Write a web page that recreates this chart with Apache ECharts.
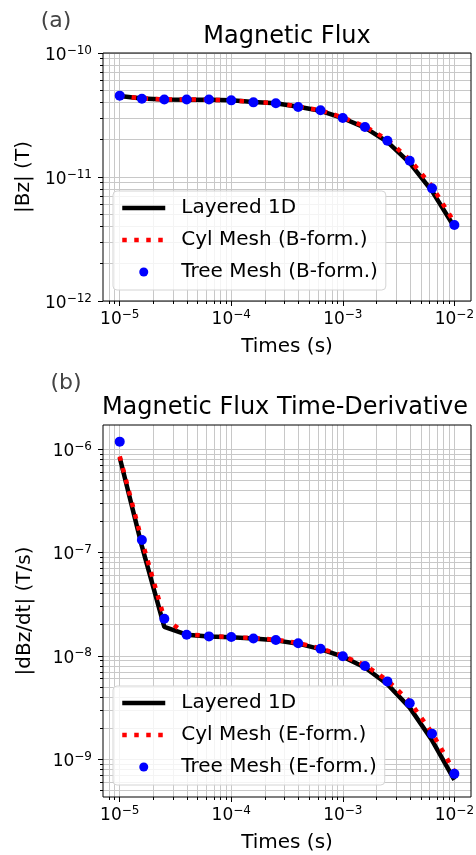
<!DOCTYPE html>
<html>
<head>
<meta charset="utf-8">
<title>Magnetic Flux</title>
<script src="https://cdn.jsdelivr.net/npm/echarts@6/dist/echarts.min.js"></script>
<style>
html, body { margin: 0; padding: 0; background: #fff; }
#main { width: 476px; height: 855px; }
</style>
</head>
<body>
<div id="main"></div>
<script>
// sample times (s), 5 per decade
var times = [1.0e-5, 1.58e-5, 2.51e-5, 3.98e-5, 6.31e-5, 1.0e-4, 1.58e-4, 2.51e-4,
             3.98e-4, 6.31e-4, 1.0e-3, 1.58e-3, 2.51e-3, 3.98e-3, 6.31e-3, 1.0e-2];

// (a) |Bz| (T)
var bzLayered = [4.5e-11, 4.3e-11, 4.22e-11, 4.2e-11, 4.2e-11, 4.15e-11, 4.02e-11, 3.93e-11,
                 3.68e-11, 3.42e-11, 2.98e-11, 2.5e-11, 1.92e-11, 1.3e-11, 7.7e-12, 3.95e-12];
var bzCyl = [4.5e-11, 4.3e-11, 4.23e-11, 4.22e-11, 4.2e-11, 4.15e-11, 4.02e-11, 3.95e-11,
             3.7e-11, 3.45e-11, 3.02e-11, 2.56e-11, 2.0e-11, 1.38e-11, 8.4e-12, 4.3e-12];
var bzTree = [4.53e-11, 4.28e-11, 4.22e-11, 4.22e-11, 4.22e-11, 4.15e-11, 4.0e-11, 3.93e-11,
              3.67e-11, 3.45e-11, 2.99e-11, 2.53e-11, 1.96e-11, 1.35e-11, 8.1e-12, 4.1e-12];

// (b) |dBz/dt| (T/s)
var dbdtLayered = [8.3e-7, 1.15e-7, 1.9e-8, 1.6e-8, 1.54e-8, 1.51e-8, 1.47e-8, 1.41e-8,
                   1.31e-8, 1.16e-8, 9.8e-9, 7.7e-9, 5.3e-9, 3.15e-9, 1.52e-9, 6.3e-10];
var dbdtCyl = [8.5e-7, 1.3e-7, 2.3e-8, 1.62e-8, 1.55e-8, 1.52e-8, 1.48e-8, 1.43e-8,
               1.33e-8, 1.18e-8, 1.0e-8, 8.1e-9, 5.8e-9, 3.6e-9, 1.8e-9, 7.6e-10];
var dbdtTree = [1.18e-6, 1.32e-7, 2.28e-8, 1.6e-8, 1.54e-8, 1.52e-8, 1.47e-8, 1.42e-8,
                1.32e-8, 1.17e-8, 9.9e-9, 7.95e-9, 5.65e-9, 3.47e-9, 1.76e-9, 7.2e-10];

// axis ticks and limits
var timeTicks = [1e-5, 1e-4, 1e-3, 1e-2];
var bzTicks = [1e-12, 1e-11, 1e-10];
var dbdtTicks = [1e-9, 1e-8, 1e-7, 1e-6];
var timeLim = [7.08e-6, 1.41e-2];
var bzLim = [1e-12, 1e-10];
var dbdtLim = [4.3e-10, 1.71e-6];

var font = 'DejaVu Sans';
var gridColor = '#c8c8c8';

function lg(v) { return Math.log10(v); }

function expLabel(v) {
    var e = Math.round(v);
    return '{b|10}{s|' + (e < 0 ? '\u2212' + (-e) : String(e)) + '}';
}

// minor decade lines at 2..9 x 10^n
function minorTicks(lim) {
    var lo = lg(lim[0]), hi = lg(lim[1]), out = [];
    for (var n = Math.floor(lo); n < hi; n++) {
        for (var k = 2; k <= 9; k++) {
            var v = n + lg(k);
            if (v > lo && v < hi) out.push(v);
        }
    }
    return out;
}

var labelRich = {
    b: { fontFamily: font, fontSize: 17, lineHeight: 22, color: '#000' },
    s: { fontFamily: font, fontSize: 12, lineHeight: 12, verticalAlign: 'top', color: '#000' }
};

function makeAxes(dim, gridIndex, lim, ticks, name, nameGap) {
    var major = ticks.map(lg);
    var pos = dim === 'x' ? 'bottom' : 'left';
    var split = { show: true, lineStyle: { color: gridColor, width: 1 } };
    return [{
        type: 'value', gridIndex: gridIndex, position: pos,
        min: lg(lim[0]), max: lg(lim[1]),
        name: name, nameLocation: 'middle', nameGap: nameGap,
        nameTextStyle: { fontFamily: font, fontSize: 20, color: '#000' },
        axisLine: { show: false },
        axisTick: { show: true, customValues: major, length: 5, lineStyle: { color: '#000', width: 1 } },
        axisLabel: {
            show: true, customValues: major, formatter: expLabel,
            margin: dim === 'x' ? 8 : 11,
            padding: dim === 'y' ? [5, 0, 0, 0] : 0,
            rich: labelRich
        },
        splitLine: split,
        minorTick: { show: false }, minorSplitLine: { show: false }
    }, {
        type: 'value', gridIndex: gridIndex, position: pos,
        min: lg(lim[0]), max: lg(lim[1]),
        axisLine: { show: false },
        axisTick: { show: true, customValues: minorTicks(lim), length: 3, lineStyle: { color: '#000', width: 1 } },
        axisLabel: { show: false },
        splitLine: split
    }];
}

function pts(ys) {
    return times.map(function (t, i) { return [lg(t), lg(ys[i])]; });
}

function makeSeries(axisIndex, names, layered, cyl, tree) {
    return [{
        type: 'line', name: names[0], xAxisIndex: axisIndex, yAxisIndex: axisIndex,
        data: pts(layered), symbol: 'none', silent: true, z: 2,
        lineStyle: { color: '#000', width: 4.5 }, itemStyle: { color: '#000' }
    }, {
        type: 'line', name: names[1], xAxisIndex: axisIndex, yAxisIndex: axisIndex,
        data: pts(cyl), symbol: 'none', silent: true, z: 3,
        lineStyle: { color: '#ff0000', width: 4.5, type: [4.5, 7.5] }, itemStyle: { color: '#ff0000' }
    }, {
        type: 'scatter', name: names[2], xAxisIndex: axisIndex, yAxisIndex: axisIndex,
        data: pts(tree), symbol: 'circle', symbolSize: 10, silent: true, z: 4,
        itemStyle: { color: '#0000ff', opacity: 1 }
    }];
}

function makeLegend(top, names) {
    return {
        orient: 'vertical', left: 113, top: top,
        itemWidth: 43, itemHeight: 9, itemGap: 12, padding: [7, 8, 8, 7],
        backgroundColor: 'rgba(255,255,255,0.8)', borderColor: '#d4d4d4', borderWidth: 1, borderRadius: 4,
        selectedMode: false,
        textStyle: { fontFamily: font, fontSize: 20, color: '#000', lineHeight: 20, padding: [0, 0, 0, 11] },
        data: [
            { name: names[0], itemStyle: { opacity: 0 }, lineStyle: { width: 4.5 } },
            { name: names[1], itemStyle: { opacity: 0 }, lineStyle: { width: 4.5 } },
            { name: names[2] }
        ]
    };
}

function label(text, x, y, size, color) {
    return {
        type: 'text', x: x, y: y, silent: true,
        style: {
            text: text, fontFamily: font, fontSize: size, fill: color,
            align: 'center', verticalAlign: 'middle',
            textAlign: 'center', textVerticalAlign: 'middle'
        }
    };
}

var namesA = ['Layered 1D', 'Cyl Mesh (B-form.)', 'Tree Mesh (B-form.)'];
var namesB = ['Layered 1D', 'Cyl Mesh (E-form.)', 'Tree Mesh (E-form.)'];

var myChart = echarts.init(document.getElementById('main'), null, { renderer: 'canvas' });

var option = {
    animation: false,
    backgroundColor: '#fff',
    grid: [
        { left: 103, top: 53, width: 368, height: 248, show: true, z: 5, outerBoundsMode: 'none',
          borderColor: '#000', borderWidth: 1, backgroundColor: 'transparent' },
        { left: 103, top: 425, width: 368, height: 372, show: true, z: 5, outerBoundsMode: 'none',
          borderColor: '#000', borderWidth: 1, backgroundColor: 'transparent' }
    ],
    xAxis: makeAxes('x', 0, timeLim, timeTicks, 'Times (s)', 36)
        .concat(makeAxes('x', 1, timeLim, timeTicks, 'Times (s)', 36)),
    yAxis: makeAxes('y', 0, bzLim, bzTicks, '|Bz| (T)', 68)
        .concat(makeAxes('y', 1, dbdtLim, dbdtTicks, '|dBz/dt| (T/s)', 68)),
    legend: [makeLegend(191, namesA), makeLegend(686, namesB)],
    graphic: [
        label('Magnetic Flux', 287, 37, 24, '#000'),
        label('Magnetic Flux Time-Derivative', 285, 408, 24, '#000'),
        label('(a)', 56, 21, 22, '#444'),
        label('(b)', 66, 383, 22, '#444')
    ],
    series: makeSeries(0, namesA, bzLayered, bzCyl, bzTree)
        .concat(makeSeries(2, namesB, dbdtLayered, dbdtCyl, dbdtTree))
};

myChart.setOption(option);
</script>
</body>
</html>
